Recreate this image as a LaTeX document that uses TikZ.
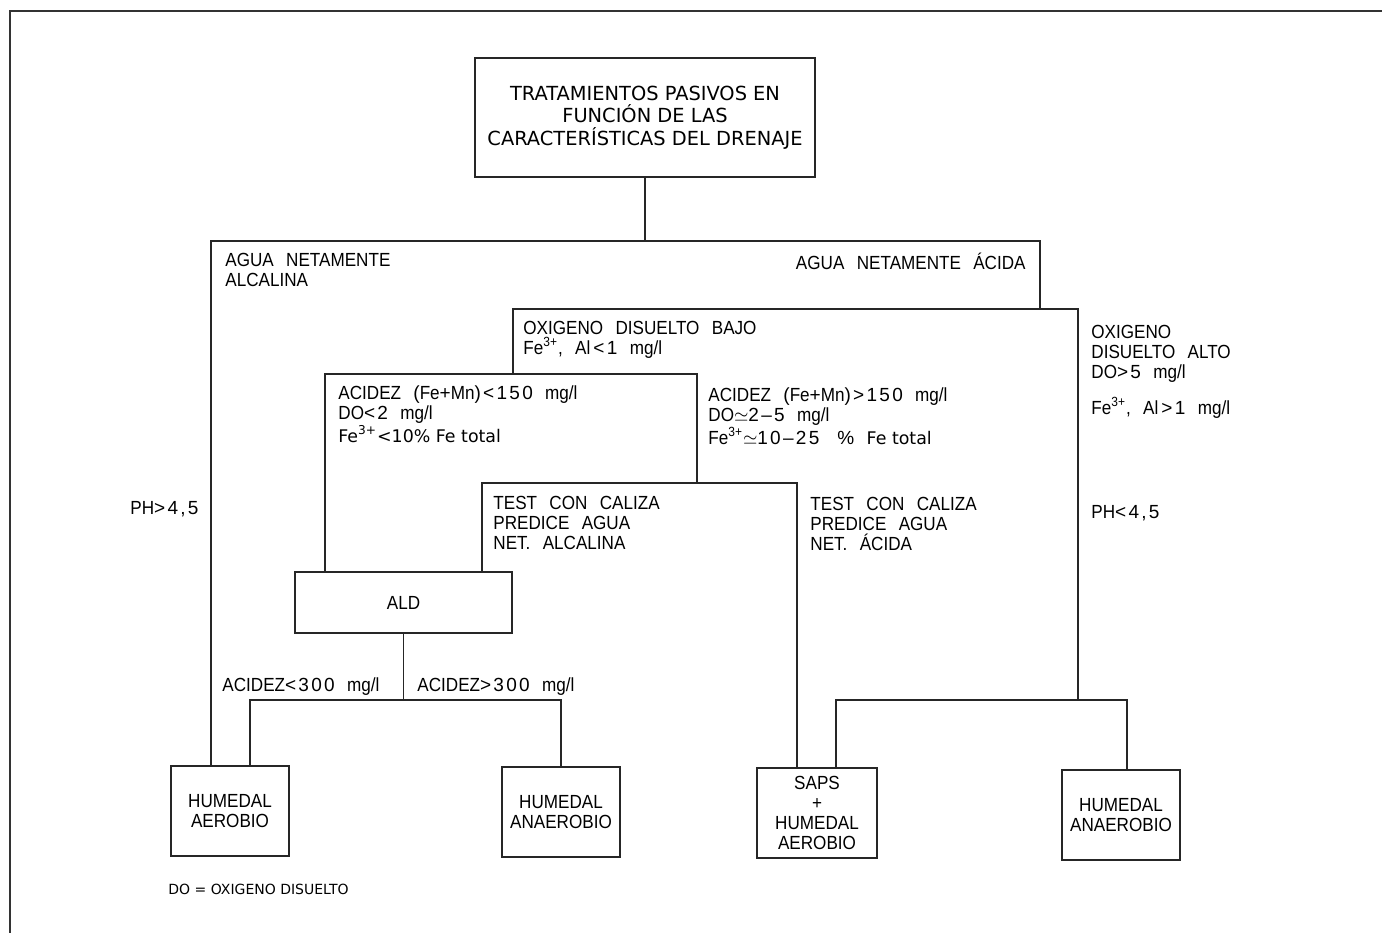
\documentclass[tikz,border=0pt]{standalone}
\usepackage{fontspec}
\setmainfont{Liberation Sans}[FakeStretch=0.9,WordSpace=2.6]
\newfontfamily\widefont{Liberation Sans}[LetterSpace=12,WordSpace=2.4]
\newfontfamily\verdanafont{DejaVu Sans}
\newcommand{\ww}[1]{{\widefont #1}}
\newcommand{\vdtext}[1]{{\verdanafont\fontsize{8.7}{10}\selectfont #1}}
\usetikzlibrary{positioning}
\tikzstyle{box} = [rectangle, draw=black!85, line width=0.75pt, text centered, align=center, inner sep=0pt, font=\fontsize{9.5}{10}\selectfont]
\tikzstyle{result} = [box, minimum width=59pt, minimum height=45pt]
\tikzstyle{label} = [anchor=base west, align=left, inner sep=0pt, font=\fontsize{9.5}{10}\selectfont]
\tikzstyle{line} = [draw=black!85, line width=0.75pt]
\tikzstyle{frame} = [draw=black!80, line width=0.6pt]

\begin{document}
\begin{tikzpicture}[x=0.5pt,y=-0.5pt]
	\useasboundingbox (0,0) rectangle (1382,933);
	\draw [frame] (1382,11) -- (10,11) -- (10,933);
	% boxes
	\node (title) [box, minimum width=170pt, minimum height=59.5pt, font=\verdanafont\fontsize{9.7}{11.25}\selectfont] at (645,117.5) {TRATAMIENTOS PASIVOS EN\\FUNCIÓN DE LAS\\CARACTERÍSTICAS DEL DRENAJE};
	\node (ald) [box, minimum width=108.5pt, minimum height=30.5pt] at (403.5,602.5) {ALD};
	\node (haer) [result] at (230,811) {HUMEDAL\\AEROBIO};
	\node (hanaer) [result] at (561,812) {HUMEDAL\\ANAEROBIO};
	\node (saps) [result, minimum width=60pt] at (817,813) {SAPS\\+\\HUMEDAL\\AEROBIO};
	\node (hanaerb) [result] at (1121,815) {HUMEDAL\\ANAEROBIO};
	% junctions
	\coordinate (kalc) at (211,241);
	\coordinate (kaci) at (1040,241);
	\coordinate (kbajo) at (513,309);
	\coordinate (kalto) at (1078,309);
	\coordinate (kalto2) at (1078,700);
	\coordinate (kmenos) at (325,374);
	\coordinate (kmas) at (697,374);
	\coordinate (ktalc) at (482,483);
	\coordinate (ktac) at (797,483);
	\coordinate (k300a) at (250,700);
	\coordinate (k300b) at (561,700);
	\coordinate (ksa) at (836,700);
	\coordinate (ksb) at (1127,700);
	% labels (anchored on the baseline of their last line)
	\node (alcalina) [label] at (225,286) {AGUA NETAMENTE\\ALCALINA};
	\node (acida) [label, anchor=base east] at (1026,269) {AGUA NETAMENTE ÁCIDA};
	\node (bajo) [label] at (523,354) {OXIGENO DISUELTO BAJO\\Fe\textsuperscript{3+}, Al\,\ww{<1} mg/l};
	\node (alto) [label] at (1091,378) {OXIGENO\\DISUELTO ALTO\\DO\ww{>5} mg/l};
	\node (altofe) [label] at (1091,414) {Fe\textsuperscript{3+}, Al\,\ww{>1} mg/l};
	\node (menos) [label] at (338,442) {ACIDEZ \ww{(}Fe\ww{+}Mn\ww{)<150} mg/l\\DO\ww{<2} mg/l\\\vdtext{Fe\textsuperscript{3+}<10\% Fe total}};
	\node (mas) [label] at (708,444) {ACIDEZ \ww{(}Fe\ww{+}Mn\ww{)>150} mg/l\\DO$\simeq$\ww{2–5} mg/l\\Fe\textsuperscript{3+}$\simeq$\ww{10–25 \%} \vdtext{Fe total}};
	\node (phalc) [label] at (130,514) {PH\ww{>4,5}};
	\node (phac) [label] at (1091,518) {PH\ww{<4,5}};
	\node (testalc) [label] at (493,549) {TEST CON CALIZA\\PREDICE AGUA\\NET. ALCALINA};
	\node (testac) [label] at (810,550) {TEST CON CALIZA\\PREDICE AGUA\\NET. ÁCIDA};
	\node (menos300) [label] at (222,691) {ACIDEZ\ww{<300} mg/l};
	\node (mas300) [label] at (417,691) {ACIDEZ\ww{>300} mg/l};
	\node (nota) [label, font=\verdanafont\fontsize{7}{8}\selectfont] at (168,894) {DO = OXIGENO DISUELTO};
	% connectors
	\draw [line] (title) -- (title |- kalc);
	\draw [line] (haer.north -| kalc) -- (kalc) -- (kaci) -- (kaci |- kbajo);
	\draw [line] (kbajo |- kmenos) -- (kbajo) -- (kalto) -- (kalto2);
	\draw [line] (ald.north -| kmenos) -- (kmenos) -- (kmas) -- (kmas |- ktac);
	\draw [line] (ald.north -| ktalc) -- (ktalc) -- (ktac) -- (saps.north -| ktac);
	\draw [line] (ald) -- (ald |- k300a);
	\draw [line] (haer.north -| k300a) -- (k300a) -- (k300b) -- (hanaer);
	\draw [line] (saps.north -| ksa) -- (ksa) -- (ksb) -- (hanaerb.north -| ksb);
\end{tikzpicture}
\end{document}
